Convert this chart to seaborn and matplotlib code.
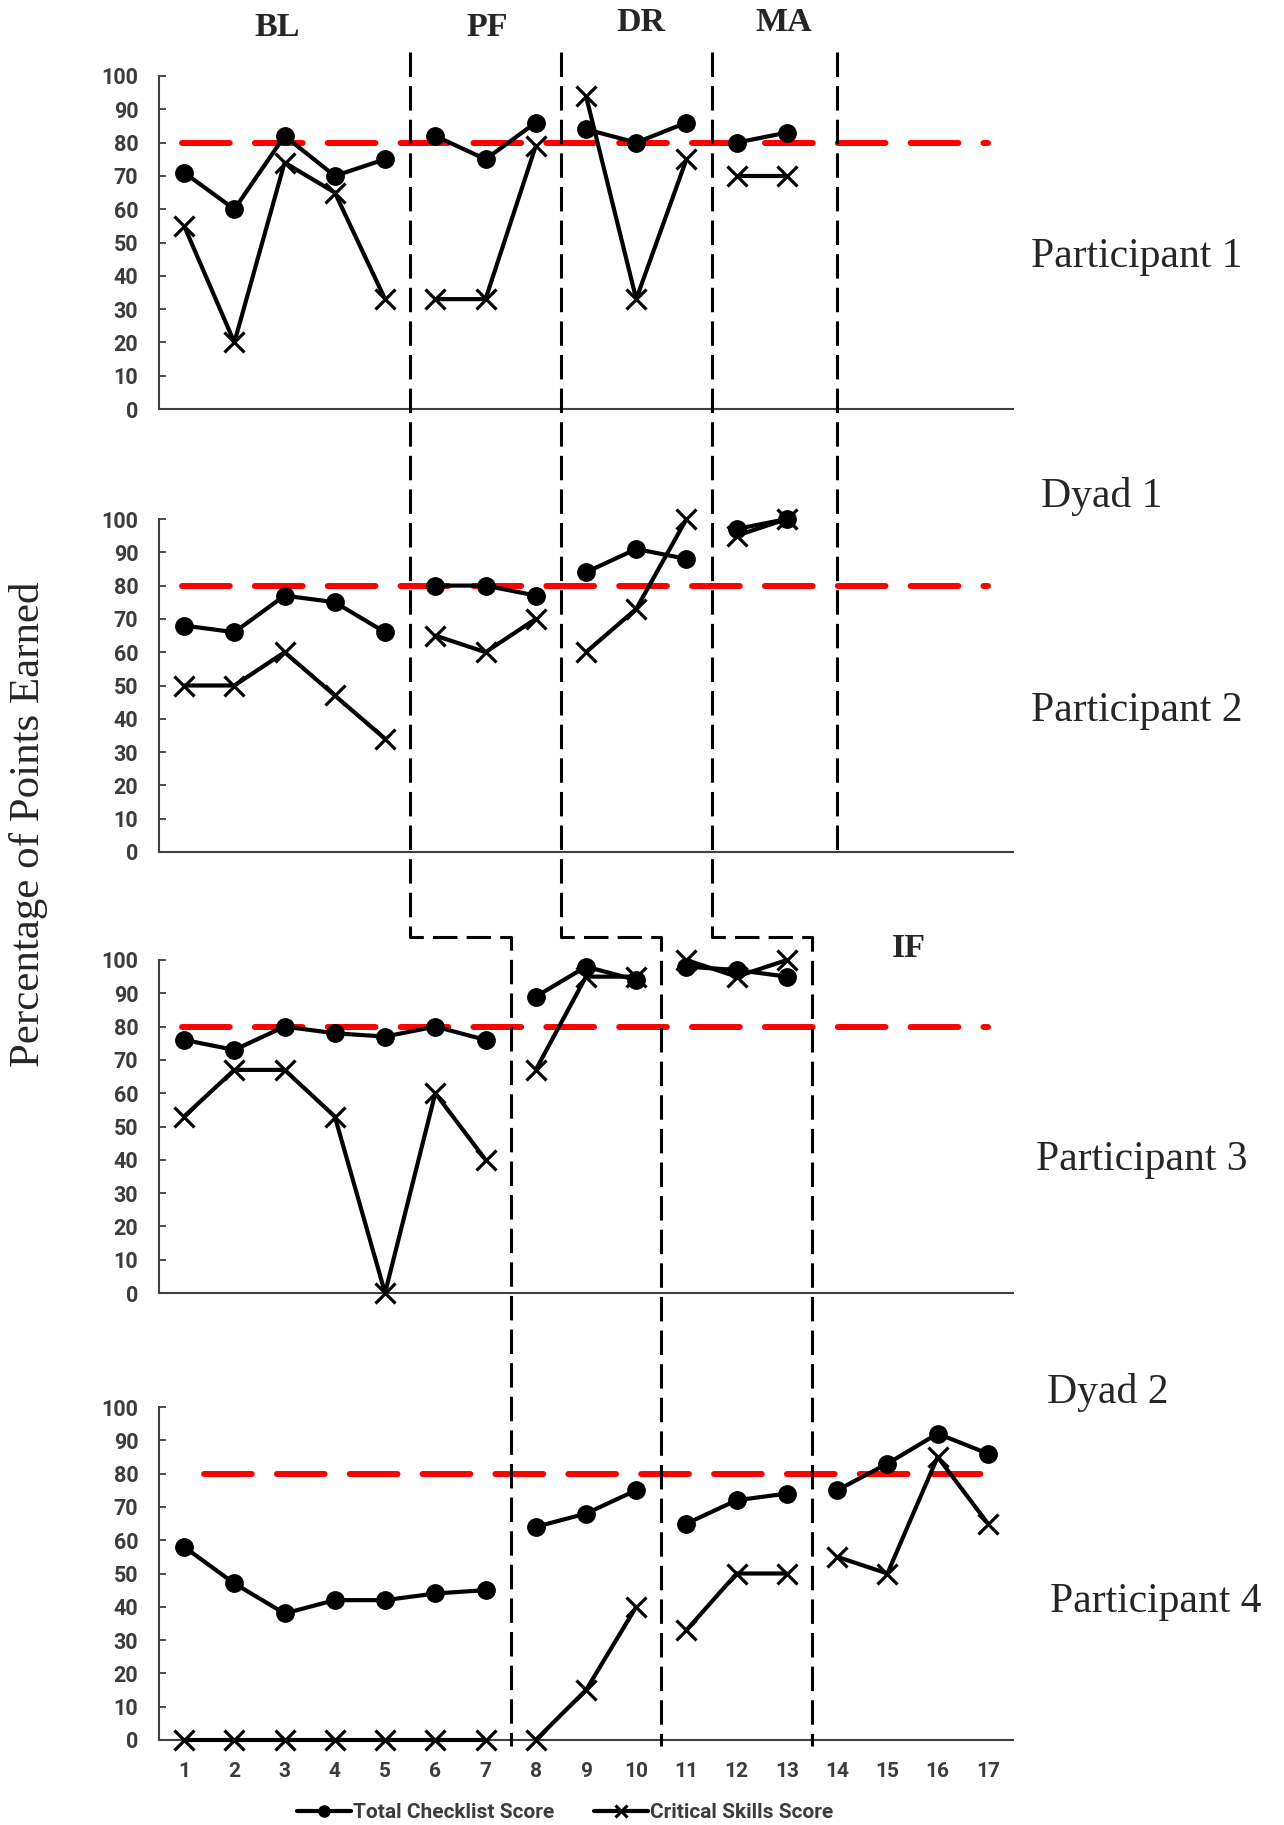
import numpy as np
import pandas as pd
import matplotlib.pyplot as plt
import seaborn as sns
from matplotlib.lines import Line2D

sns.set_style('white')
plt.rcParams['font.family'] = ['Roboto', 'DejaVu Sans']

sessions = np.arange(1, 18)
criterion = 80

# scores per panel, phase lengths (number of sessions in each phase)
p1_total = [71, 60, 82, 70, 75, 82, 75, 86, 84, 80, 86, 80, 83]
p1_crit = [55, 20, 74, 65, 33, 33, 33, 79, 94, 33, 75, 70, 70]
p1_phases = [5, 3, 3, 2]

p2_total = [68, 66, 77, 75, 66, 80, 80, 77, 84, 91, 88, 97, 100]
p2_crit = [50, 50, 60, 47, 34, 65, 60, 70, 60, 73, 100, 95, 100]
p2_phases = [5, 3, 3, 2]

p3_total = [76, 73, 80, 78, 77, 80, 76, 89, 98, 94, 98, 97, 95]
p3_crit = [53, 67, 67, 53, 0, 60, 40, 67, 95, 95, 100, 95, 100]
p3_phases = [7, 3, 3]

p4_total = [58, 47, 38, 42, 42, 44, 45, 64, 68, 75, 65, 72, 74, 75, 83, 92, 86]
p4_crit = [0, 0, 0, 0, 0, 0, 0, 0, 15, 40, 33, 50, 50, 55, 50, 85, 65]
p4_phases = [7, 3, 3, 4]

red_start = [0.95, 0.95, 0.95, 1.4]
red_end = 17.0

phase_names = ['BL', 'PF', 'DR', 'MA', 'IF']
panel_names = ['Participant 1', 'Participant 2', 'Participant 3', 'Participant 4']
dyad_names = ['Dyad 1', 'Dyad 2']

panels = [(p1_total, p1_crit, p1_phases), (p2_total, p2_crit, p2_phases),
          (p3_total, p3_crit, p3_phases), (p4_total, p4_crit, p4_phases)]

W, H = 1284, 1825
fig = plt.figure(figsize=(W / 100, H / 100), dpi=100)

spine_c = '#404040'
tick_c = '#3c3c3c'
serif = 'Liberation Serif'

left, width = 159 / W, 854 / W
tops = [76, 519, 960, 1407]
ph = 333

axes = []
for i, (tot, crit, phases) in enumerate(panels):
    ax = fig.add_axes([left, 1 - (tops[i] + ph) / H, width, ph / H])
    axes.append(ax)

    # red criterion line
    sns.lineplot(x=[red_start[i], red_end], y=[criterion, criterion], ax=ax,
                 color='#ff0000', lw=4.3, dashes=(8, 4.2), zorder=3)
    for l in ax.lines:
        l.set_dash_capstyle('round')

    start = 0
    for n in phases:
        seg = pd.DataFrame({'session': sessions[start:start + n],
                            'total': tot[start:start + n],
                            'crit': crit[start:start + n]})
        sns.lineplot(data=seg, x='session', y='total', ax=ax, color='black', lw=3,
                     marker='o', markersize=12.5, markeredgecolor='black',
                     markeredgewidth=1, errorbar=None, clip_on=False, zorder=5)
        sns.lineplot(data=seg, x='session', y='crit', ax=ax, color='black', lw=3,
                     marker='x', markersize=14, markeredgecolor='black',
                     markeredgewidth=2.3, errorbar=None, clip_on=False, zorder=5)
        start += n

    ax.set_xlim(0.5, 17.5)
    ax.set_ylim(0, 100)
    ax.set_yticks(range(0, 101, 10))
    ax.set_xticks(sessions)
    ax.set_xticks(np.arange(0.5, 18, 1), minor=True)
    ax.tick_params(axis='x', which='major', length=0, pad=16, labelbottom=(i == 3),
                   labelsize=15, labelcolor=tick_c)
    ax.tick_params(axis='x', which='minor', direction='in', length=5, width=1.3,
                   color=spine_c)
    ax.tick_params(axis='y', direction='in', length=5, width=1.3, pad=15,
                   labelsize=15.5, labelcolor=tick_c, color=spine_c, left=True)
    for lbl in ax.get_xticklabels() + ax.get_yticklabels():
        lbl.set_fontweight('bold')
    ax.set_xlabel('')
    ax.set_ylabel('')
    sns.despine(ax=ax)
    for s in ['left', 'bottom']:
        ax.spines[s].set_color(spine_c)
        ax.spines[s].set_linewidth(1.5)

fig.canvas.draw()


def fx(x):
    px = axes[0].transData.transform((x, 0))[0]
    return px / W


def fy(py):
    return 1 - py / H


# phase change lines (stepped between the two dyads)
y_top, y_step, y_bot, y_mid = 52, 937, 1746, 855
steps = [(5.5, 7.5), (8.5, 10.5), (11.5, 13.5)]
for a, b in steps:
    xs = [fx(a), fx(a), fx(b), fx(b)]
    ys = [fy(y_top), fy(y_step), fy(y_step), fy(y_bot)]
    fig.add_artist(Line2D(xs, ys, transform=fig.transFigure, color='black',
                          lw=2.2, dashes=(8, 3), zorder=2))
fig.add_artist(Line2D([fx(14), fx(14)], [fy(y_top), fy(y_mid)], transform=fig.transFigure,
                      color='black', lw=2.2, dashes=(8, 3), zorder=2))

# phase labels
phase_pos = [(277, 36), (487, 36), (641, 31), (784, 31), (909, 957)]
for name, (px, py) in zip(phase_names, phase_pos):
    fig.text(px / W, fy(py), name, ha='center', va='baseline', fontsize=24.5,
             fontweight='bold', family=serif)

# participant / dyad labels
name_pos = [(1137, 257), (1137, 711), (1142, 1160), (1156, 1602)]
for name, (px, py) in zip(panel_names, name_pos):
    fig.text(px / W, fy(py), name, ha='center', va='center', fontsize=30, family=serif)
dyad_pos = [(1102, 496), (1108, 1393)]
for name, (px, py) in zip(dyad_names, dyad_pos):
    fig.text(px / W, fy(py), name, ha='center', va='center', fontsize=30, family=serif)

fig.text(29 / W, fy(824), 'Percentage of Points Earned', rotation=90, ha='center',
         va='center', fontsize=31, family=serif)

handles = [Line2D([], [], color='black', lw=3, marker='o', markersize=8),
           Line2D([], [], color='black', lw=3, marker='x', markersize=9, markeredgewidth=2.2)]
leg = fig.legend(handles, ['Total Checklist Score', 'Critical Skills Score'], loc='center',
                 bbox_to_anchor=(565 / W, fy(1813)), ncol=2, frameon=False,
                 handlelength=2.6, handletextpad=0.1, columnspacing=1.9,
                 prop={'family': 'Roboto', 'size': 15, 'weight': 'bold'})
for t in leg.get_texts():
    t.set_color(tick_c)

fig.savefig('out.png', dpi=100)
